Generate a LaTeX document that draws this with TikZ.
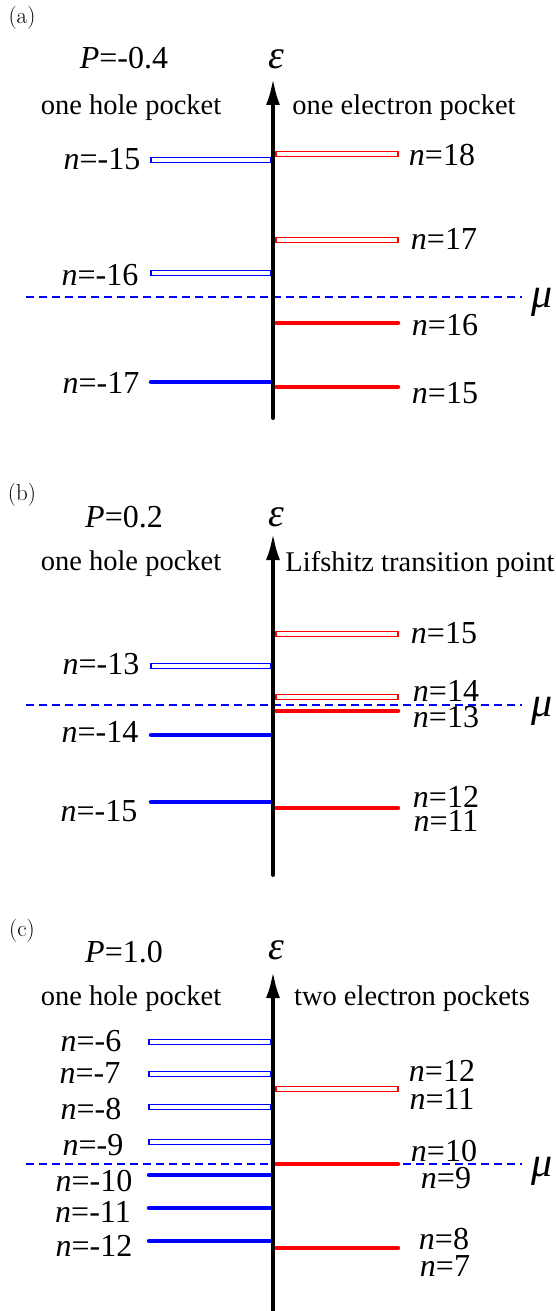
\documentclass[tikz,border=0pt]{standalone}
\usepackage{fontspec}
\usetikzlibrary{arrows.meta}
\newfontfamily\tms{Liberation Serif}
\begin{document}
\begin{tikzpicture}[x=1pt,y=-1pt,
  lab/.style={font=\tms\fontsize{32}{36}\selectfont, inner sep=0pt},
  pock/.style={font=\tms\fontsize{28.5}{32}\selectfont, inner sep=0pt},
  panel/.style={font=\fontsize{23}{26}\selectfont, inner sep=0pt},
  eps/.style={font=\tms\itshape\fontsize{40}{44}\selectfont, inner sep=0pt},
  mulab/.style={font=\tms\itshape\fontsize{42}{44}\selectfont, inner sep=0pt},
  axis/.style={line width=4pt, line cap=round, -{Latex[length=27pt,width=14pt]}},
  dlev/.style={line width=1.4pt},
  tlev/.style={line width=4.5pt, line cap=round},
  fermi/.style={blue, line width=1.3pt, dash pattern=on 8pt off 5pt}]
\useasboundingbox (0,0) rectangle (556,1311);

% ---------- panel (a) ----------
\node[panel] (pa) at (22,18) {(a)};
\node[lab] (Pa) at (124,58) {\textit{P}=-0.4};
\node[eps] (ea) at (276,59) {ε};
\node[pock] (ha) at (131,108) {one hole pocket};
\node[pock] (ela) at (404,108) {one electron pocket};
\coordinate (abot) at (273,418);
\coordinate (atop) at (273,78);
\draw[fermi] (26,297) -- (522,297);
\node[mulab] (mua) at (542,302) {μ};
\foreach \y in {160,273} \draw[blue,dlev] (151,\y-2.6) rectangle (271,\y+2.6);
\foreach \y in {382} \draw[blue,tlev] (151,\y) -- (271,\y);
\foreach \y in {154,240} \draw[red,dlev] (276,\y-2.6) rectangle (398,\y+2.6);
\foreach \y in {323,387} \draw[red,tlev] (276,\y) -- (398,\y);
\draw[axis] (abot) -- (atop);
\node[lab] (a1) at (102,159) {\textit{n}=-15};
\node[lab] (a2) at (100,275) {\textit{n}=-16};
\node[lab] (a3) at (101,383) {\textit{n}=-17};
\node[lab] (a4) at (442,155) {\textit{n}=18};
\node[lab] (a5) at (444,239) {\textit{n}=17};
\node[lab] (a6) at (445,325) {\textit{n}=16};
\node[lab] (a7) at (445,393) {\textit{n}=15};

% ---------- panel (b) ----------
\node[panel] (pb) at (22,495) {(b)};
\node[lab] (Pb) at (124,517) {\textit{P}=0.2};
\node[eps] (eb) at (276,517) {ε};
\node[pock] (hb) at (131,564) {one hole pocket};
\node[pock] (lb) at (420,564) {Lifshitz transition point};
\coordinate (bbot) at (273,875);
\coordinate (btop) at (273,533);
\draw[fermi] (26,705) -- (522,705);
\node[mulab] (mub) at (542,711) {μ};
\foreach \y in {666} \draw[blue,dlev] (151,\y-2.6) rectangle (271,\y+2.6);
\foreach \y in {735,802} \draw[blue,tlev] (151,\y) -- (271,\y);
\foreach \y in {634,697} \draw[red,dlev] (276,\y-2.6) rectangle (398,\y+2.6);
\foreach \y in {711,808} \draw[red,tlev] (276,\y) -- (398,\y);
\draw[axis] (bbot) -- (btop);
\node[lab] (b1) at (101,664) {\textit{n}=-13};
\node[lab] (b2) at (100,732) {\textit{n}=-14};
\node[lab] (b3) at (99,811) {\textit{n}=-15};
\node[lab] (b4) at (444,633) {\textit{n}=15};
\node[lab] (b5) at (446,691) {\textit{n}=14};
\node[lab] (b6) at (446,717) {\textit{n}=13};
\node[lab] (b7) at (446,797) {\textit{n}=12};
\node[lab] (b8) at (446,821) {\textit{n}=11};

% ---------- panel (c) ----------
\node[panel] (pc) at (22,931) {(c)};
\node[lab] (Pc) at (124,952) {\textit{P}=1.0};
\node[eps] (ec) at (276,950) {ε};
\node[pock] (hc) at (131,999) {one hole pocket};
\node[pock] (tc) at (412,999) {two electron pockets};
\coordinate (cbot) at (273,1315);
\coordinate (ctop) at (273,971);
\draw[fermi] (26,1164) -- (522,1164);
\node[mulab] (muc) at (542,1171) {μ};
\foreach \y in {1042,1074,1107,1142} \draw[blue,dlev] (149,\y-2.6) rectangle (271,\y+2.6);
\foreach \y in {1175,1208,1241} \draw[blue,tlev] (149,\y) -- (271,\y);
\foreach \y in {1089} \draw[red,dlev] (276,\y-2.6) rectangle (398,\y+2.6);
\foreach \y in {1164,1248} \draw[red,tlev] (276,\y) -- (398,\y);
\draw[axis] (cbot) -- (ctop);
\node[lab] (c1) at (91,1041) {\textit{n}=-6};
\node[lab] (c2) at (90,1073) {\textit{n}=-7};
\node[lab] (c3) at (91,1109) {\textit{n}=-8};
\node[lab] (c4) at (93,1145) {\textit{n}=-9};
\node[lab] (c5) at (94,1181) {\textit{n}=-10};
\node[lab] (c6) at (93,1212) {\textit{n}=-11};
\node[lab] (c7) at (94,1246) {\textit{n}=-12};
\node[lab] (c8) at (442,1071) {\textit{n}=12};
\node[lab] (c9) at (442,1099) {\textit{n}=11};
\node[lab] (c10) at (444,1151) {\textit{n}=10};
\node[lab] (c11) at (446,1178) {\textit{n}=9};
\node[lab] (c12) at (444,1239) {\textit{n}=8};
\node[lab] (c13) at (445,1266) {\textit{n}=7};
\end{tikzpicture}
\end{document}
